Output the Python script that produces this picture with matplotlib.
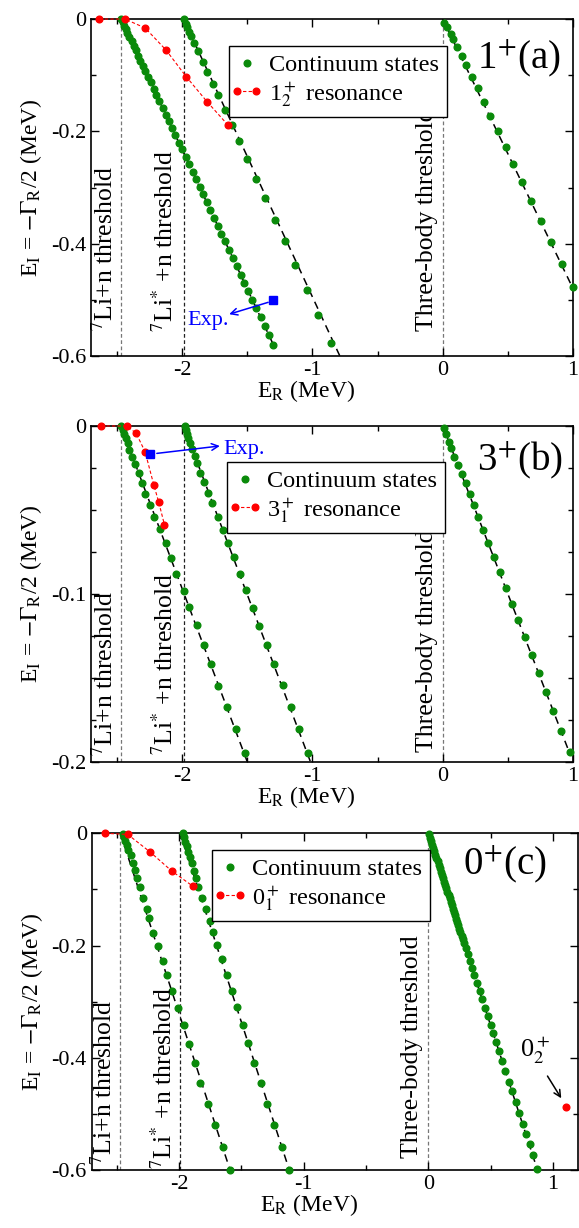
import matplotlib
matplotlib.use("Agg")
import matplotlib.pyplot as plt
from matplotlib.lines import Line2D
from matplotlib.legend_handler import HandlerLine2D
from matplotlib.ticker import MultipleLocator, FixedLocator

plt.rcParams['font.family'] = ['Liberation Serif', 'DejaVu Serif']
plt.rcParams['mathtext.fontset'] = 'stix'
plt.rcParams['axes.unicode_minus'] = False

# ---------------- Panel (a) 1+ ----------------
a_s1_re = [-2.470, -2.458, -2.446, -2.434, -2.420, -2.405, -2.389, -2.373, -2.357, -2.339,
           -2.321, -2.303, -2.282, -2.262, -2.242, -2.220, -2.198, -2.176, -2.151, -2.127,
           -2.103, -2.079, -2.054, -2.026, -2.002, -1.974, -1.950, -1.921, -1.895, -1.867,
           -1.841, -1.812, -1.784, -1.756, -1.728, -1.700, -1.671, -1.641, -1.613, -1.583,
           -1.552, -1.522, -1.492, -1.461, -1.431, -1.399, -1.367, -1.334, -1.300]
a_s1_im = [0.000, -0.006, -0.012, -0.018, -0.025, -0.032, -0.040, -0.048, -0.056, -0.065,
           -0.074, -0.083, -0.093, -0.103, -0.113, -0.124, -0.135, -0.146, -0.158, -0.170,
           -0.182, -0.194, -0.206, -0.220, -0.232, -0.246, -0.258, -0.272, -0.285, -0.299,
           -0.312, -0.326, -0.340, -0.354, -0.368, -0.382, -0.396, -0.411, -0.425, -0.440,
           -0.455, -0.470, -0.485, -0.500, -0.515, -0.531, -0.547, -0.563, -0.580]
a_s2_re = [-1.990, -1.974, -1.961, -1.945, -1.929, -1.906, -1.878, -1.841, -1.806, -1.764,
           -1.725, -1.672, -1.619, -1.562, -1.501, -1.433, -1.364, -1.290, -1.213, -1.131,
           -1.044, -0.956, -0.858]
a_s2_im = [0.000, -0.008, -0.015, -0.023, -0.031, -0.043, -0.057, -0.076, -0.094, -0.115,
           -0.135, -0.162, -0.189, -0.218, -0.249, -0.284, -0.319, -0.357, -0.396, -0.438,
           -0.482, -0.527, -0.577]
a_s3_re = [0.010, 0.036, 0.062, 0.082, 0.113, 0.144, 0.177, 0.221, 0.268, 0.314, 0.365,
           0.422, 0.486, 0.541, 0.608, 0.679, 0.754, 0.833, 0.915, 1.001]
a_s3_im = [-0.007, -0.015, -0.026, -0.036, -0.049, -0.066, -0.082, -0.103, -0.123, -0.147,
           -0.172, -0.199, -0.227, -0.258, -0.290, -0.324, -0.359, -0.397, -0.436, -0.477]
a_guides = [((-2.47, 0.0), (-1.29, -0.585)), ((-1.99, 0.0), (-0.79, -0.60)), ((0.0, 0.0), (1.0, -0.48))]
a_res_re = [-2.637, -2.440, -2.284, -2.125, -1.968, -1.810, -1.648]
a_res_im = [0.000, 0.000, -0.016, -0.055, -0.103, -0.147, -0.189]
a_exp = (-1.30, -0.50)

# ---------------- Panel (b) 3+ ----------------
b_s1_re = [-2.470, -2.457, -2.444, -2.431, -2.419, -2.406, -2.385, -2.359, -2.334, -2.308,
           -2.282, -2.246, -2.213, -2.169, -2.128, -2.084, -2.046, -1.989, -1.948, -1.887,
           -1.833, -1.781, -1.725, -1.660, -1.588, -1.519]
b_s1_im = [0.0000, -0.0024, -0.0049, -0.0073, -0.0103, -0.0143, -0.0183, -0.0228, -0.0281, -0.0341,
           -0.0406, -0.0470, -0.0540, -0.0613, -0.0698, -0.0787, -0.0880, -0.0980, -0.1079, -0.1184,
           -0.1303, -0.1418, -0.1545, -0.1674, -0.1805, -0.1944]
b_s2_re = [-1.981, -1.974, -1.964, -1.953, -1.938, -1.922, -1.904, -1.887, -1.861, -1.835,
           -1.802, -1.768, -1.725, -1.686, -1.648, -1.604, -1.557, -1.511, -1.460, -1.409,
           -1.352, -1.295, -1.228, -1.167, -1.100, -1.031]
b_s2_im = [0.0000, -0.0024, -0.0048, -0.0073, -0.0103, -0.0139, -0.0178, -0.0222, -0.0278, -0.0331,
           -0.0397, -0.0460, -0.0540, -0.0619, -0.0694, -0.0781, -0.0880, -0.0976, -0.1081, -0.1190,
           -0.1303, -0.1416, -0.1541, -0.1670, -0.1804, -0.1944]
b_s3_re = [0.010, 0.028, 0.049, 0.067, 0.087, 0.118, 0.146, 0.177, 0.208, 0.236, 0.267, 0.306,
           0.349, 0.392, 0.437, 0.484, 0.531, 0.580, 0.631, 0.683, 0.737, 0.794, 0.850, 0.910, 0.973]
b_s3_im = [-0.0014, -0.0050, -0.0093, -0.0133, -0.0182, -0.0232, -0.0286, -0.0341, -0.0405, -0.0470,
           -0.0540, -0.0619, -0.0698, -0.0782, -0.0872, -0.0964, -0.1059, -0.1157, -0.1258, -0.1362,
           -0.1469, -0.1582, -0.1695, -0.1814, -0.1939]
b_guides = [((-2.47, 0.0), (-1.50, -0.20)), ((-1.99, 0.0), (-1.015, -0.20)), ((0.0, 0.0), (0.98, -0.196))]
b_res_re = [-2.624, -2.425, -2.354, -2.285, -2.218, -2.180, -2.136]
b_res_im = [0.0000, 0.0000, -0.0043, -0.0153, -0.0351, -0.0454, -0.0589]
b_exp = (-2.246, -0.0168)

# ---------------- Panel (c) 0+ ----------------
c_s1_re = [-2.452, -2.441, -2.431, -2.419, -2.407, -2.387, -2.371, -2.353, -2.334, -2.313,
           -2.286, -2.259, -2.238, -2.211, -2.166, -2.131, -2.094, -2.059, -2.006, -1.960,
           -1.917, -1.872, -1.832, -1.765, -1.711, -1.650, -1.591]
c_s1_im = [-0.001, -0.007, -0.014, -0.021, -0.029, -0.039, -0.053, -0.065, -0.080, -0.096,
           -0.115, -0.134, -0.151, -0.178, -0.201, -0.227, -0.253, -0.281, -0.311, -0.342,
           -0.375, -0.409, -0.445, -0.482, -0.520, -0.559, -0.599]
c_s2_re = [-1.970, -1.960, -1.949, -1.938, -1.925, -1.912, -1.898, -1.880, -1.864, -1.845,
           -1.818, -1.784, -1.751, -1.725, -1.693, -1.658, -1.618, -1.578, -1.532, -1.489,
           -1.444, -1.399, -1.345, -1.292, -1.238, -1.176, -1.115]
c_s2_im = [0.000, -0.007, -0.016, -0.023, -0.033, -0.043, -0.053, -0.067, -0.080, -0.096,
           -0.115, -0.134, -0.156, -0.176, -0.199, -0.223, -0.252, -0.281, -0.310, -0.342,
           -0.373, -0.409, -0.445, -0.482, -0.519, -0.559, -0.599]
c_s3_re = [0.003, 0.012, 0.020, 0.029, 0.038, 0.047, 0.056, 0.064, 0.073, 0.082, 0.091, 0.099,
           0.108, 0.117, 0.126, 0.135, 0.143, 0.152, 0.161, 0.170, 0.178, 0.187, 0.196, 0.205,
           0.213, 0.222, 0.231, 0.240, 0.249, 0.257, 0.266, 0.275,
           0.286, 0.299, 0.314, 0.332, 0.349, 0.368, 0.390, 0.410, 0.431, 0.455, 0.476, 0.498,
           0.520, 0.543, 0.567, 0.593, 0.618, 0.645, 0.672, 0.699, 0.728, 0.757, 0.783, 0.811,
           0.838, 0.873]
c_s3_im = [-0.002, -0.008, -0.014, -0.020, -0.026, -0.032, -0.038, -0.044, -0.050, -0.056,
           -0.062, -0.068, -0.074, -0.080, -0.086, -0.092, -0.098, -0.104, -0.110, -0.116,
           -0.122, -0.128, -0.134, -0.140, -0.146, -0.152, -0.158, -0.164, -0.170, -0.176,
           -0.182, -0.188,
           -0.195, -0.204, -0.215, -0.227, -0.239, -0.252, -0.267, -0.280, -0.295, -0.311,
           -0.326, -0.341, -0.356, -0.372, -0.388, -0.406, -0.423, -0.442, -0.459, -0.478,
           -0.498, -0.518, -0.535, -0.554, -0.573, -0.597]
c_guides = [((-2.47, 0.0), (-1.59, -0.60)), ((-1.99, 0.0), (-1.115, -0.60)), ((0.0, 0.0), (0.875, -0.60))]
c_res_re = [-2.593, -2.411, -2.233, -2.059, -1.890]
c_res_im = [0.000, -0.002, -0.033, -0.067, -0.094]
c_res2 = (1.101, -0.488)

thresholds = [-2.47, -1.99, 0.0]

GREEN = '#0a8a0a'
MS = 4.8

fig = plt.figure(figsize=(5.79, 12.28), dpi=100)

panels = [
    dict(rect=[0.1572, 0.7101, 0.8325, 0.2744], xlim=(-2.7, 1.0), ylim=(-0.6, 0.0),
         yticks=[0, -0.2, -0.4, -0.6], ylab=['0', '-0.2', '-0.4', '-0.6'], yminor=0.1,
         s=[(a_s1_re, a_s1_im), (a_s2_re, a_s2_im), (a_s3_re, a_s3_im)], guides=a_guides,
         res=(a_res_re, a_res_im), reslabel=r'1$_2^+$ resonance', tag=r'1$^{+}$(a)',
         tagpos=(0.80, 0.945), legpos=(0.2863, 0.9199),
         thr=[(-2.495, -0.555), (-2.035, -0.558), (-0.035, -0.556)]),
    dict(rect=[0.1572, 0.3795, 0.8325, 0.2736], xlim=(-2.7, 1.0), ylim=(-0.2, 0.0),
         yticks=[0, -0.1, -0.2], ylab=['0', '-0.1', '-0.2'], yminor=0.025,
         s=[(b_s1_re, b_s1_im), (b_s2_re, b_s2_im), (b_s3_re, b_s3_im)], guides=b_guides,
         res=(b_res_re, b_res_im), reslabel=r'3$_1^+$ resonance', tag=r'3$^{+}$(b)',
         tagpos=(0.80, 0.958), legpos=(0.2822, 0.8929),
         thr=[(-2.495, -0.1965), (-2.035, -0.196), (-0.035, -0.194)]),
    dict(rect=[0.1584, 0.0470, 0.8400, 0.2744], xlim=(-2.7, 1.2), ylim=(-0.6, 0.0),
         yticks=[0, -0.2, -0.4, -0.6], ylab=['0', '-0.2', '-0.4', '-0.6'], yminor=0.1,
         s=[(c_s1_re, c_s1_im), (c_s2_re, c_s2_im), (c_s3_re, c_s3_im)], guides=c_guides,
         res=(c_res_re, c_res_im), reslabel=r'0$_1^+$ resonance', tag=r'0$^{+}$(c)',
         tagpos=(0.763, 0.968), legpos=(0.248, 0.9504),
         thr=[(-2.495, -0.59), (-2.02, -0.597), (-0.04, -0.578)]),
]

thr_labels = [r'$^{7}$Li+n threshold', r'$^{7}$Li$^{*}$ +n threshold', 'Three-body threshold']
thr_colors = ['#777777', '#222222', '#777777']

axes = []
for p in panels:
    ax = fig.add_axes(p['rect'])
    axes.append(ax)
    ax.set_xlim(*p['xlim'])
    ax.set_ylim(*p['ylim'])
    for xt, col in zip(thresholds, thr_colors):
        ax.axvline(xt, color=col, lw=0.9, ls=(0, (3, 2)), zorder=1)
    for (x0, y0), (x1, y1) in p['guides']:
        ax.plot([x0, x1], [y0, y1], color='black', lw=1.1, ls=(0, (5, 3.5)), zorder=2)
    for xs, ys in p['s']:
        ax.plot(xs, ys, ls='none', marker='o', ms=MS, color=GREEN, mec=GREEN, zorder=3, clip_on=False)
    rx, ry = p['res']
    ax.plot(rx, ry, ls=(0, (3, 2)), lw=0.8, color='red', marker='o', ms=MS, mec='red', zorder=4, clip_on=False)
    for (tx, ty), lab in zip(p['thr'], thr_labels):
        ax.text(tx, ty, lab, rotation=90, ha='right', va='bottom', fontsize=18.5)
    ax.text(p['tagpos'][0], p['tagpos'][1], p['tag'], transform=ax.transAxes,
            ha='left', va='top', fontsize=28)
    h1 = Line2D([], [], ls='none', marker='o', ms=MS, color=GREEN)
    h2 = Line2D([], [], ls=(0, (3, 2)), lw=0.8, color='red', marker='o', ms=MS)
    leg = ax.legend([h1, h2], ['Continuum states', p['reslabel']], loc='upper left',
                    bbox_to_anchor=p['legpos'], borderaxespad=0, fancybox=False,
                    framealpha=1, edgecolor='black', fontsize=17.5,
                    handlelength=0.8, handletextpad=0.5, labelspacing=0.15,
                    borderpad=0.33,
                    handler_map={h1: HandlerLine2D(numpoints=1),
                                 h2: HandlerLine2D(numpoints=2, marker_pad=0.0)})
    leg.get_frame().set_linewidth(1.0)
    ax.xaxis.set_major_locator(FixedLocator([-2, -1, 0, 1]))
    ax.xaxis.set_minor_locator(MultipleLocator(0.5))
    ax.set_xticklabels(['-2', '-1', '0', '1'])
    ax.yaxis.set_major_locator(FixedLocator(p['yticks']))
    ax.set_yticklabels(p['ylab'])
    ax.yaxis.set_minor_locator(MultipleLocator(p['yminor']))
    ax.tick_params(which='both', direction='in', top=True, right=True, labelsize=16, width=1.0)
    ax.tick_params(which='major', length=6)
    ax.tick_params(which='minor', length=3.5)
    for sp in ax.spines.values():
        sp.set_linewidth(1.2)
    ax.set_xlabel(r'E$_\mathrm{R}$ (MeV)', fontsize=17, labelpad=0)
    ax.xaxis.set_label_coords(0.446, -0.066)
    ax.set_ylabel(r'E$_\mathrm{I}$ = $-\Gamma_\mathrm{R}$/2 (MeV)', fontsize=17, labelpad=5)

# Experimental points
axa, axb, axc = axes
axa.plot([a_exp[0]], [a_exp[1]], marker='s', ms=6, color='blue', ls='none', zorder=5)
axa.annotate('', xy=(-1.66, -0.527), xytext=(a_exp[0] - 0.02, a_exp[1] - 0.003),
             arrowprops=dict(arrowstyle='->', color='blue', lw=1.1, mutation_scale=12))
axa.text(-1.80, -0.536, 'Exp.', color='blue', ha='center', va='center', fontsize=16)

axb.plot([b_exp[0]], [b_exp[1]], marker='s', ms=6, color='blue', ls='none', zorder=5)
axb.annotate('', xy=(-1.69, -0.0117), xytext=(b_exp[0] + 0.03, b_exp[1] + 0.0003),
             arrowprops=dict(arrowstyle='->', color='blue', lw=1.1, mutation_scale=12))
axb.text(-1.685, -0.0138, 'Exp.', color='blue', ha='left', va='center', fontsize=16)

axc.plot([c_res2[0]], [c_res2[1]], marker='o', ms=MS, color='red', ls='none', zorder=5, clip_on=False)
axc.annotate('', xy=(1.077, -0.476), xytext=(0.943, -0.428),
             arrowprops=dict(arrowstyle='->', color='black', lw=1.1, mutation_scale=12))
axc.text(0.855, -0.386, r'0$_2^+$', ha='center', va='center', fontsize=19)

fig.savefig('out.png', dpi=100)
